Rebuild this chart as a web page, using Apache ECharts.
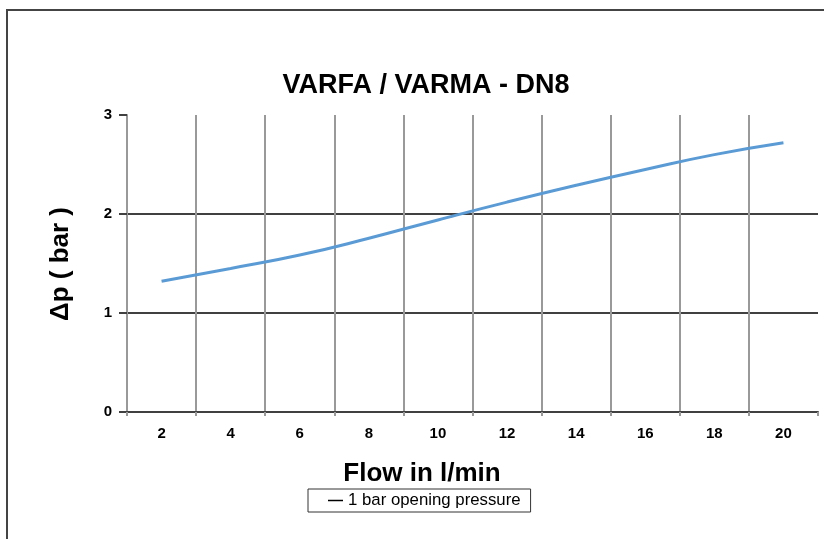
<!DOCTYPE html>
<html>
<head>
<meta charset="utf-8">
<script src="https://cdn.jsdelivr.net/npm/echarts@6/dist/echarts.min.js"></script>
<style>
html,body{margin:0;padding:0;background:#fff;}
#main{width:824px;height:539px;}
</style>
</head>
<body>
<div id="main"></div>
<script>
// flow (l/min) categories and pressure drop
var flowCats = ['2','4','6','8','10','12','14','16','18','20'];
var dpValues = [1.32, 1.45, 1.585, 1.755, 1.94, 2.12, 2.29, 2.45, 2.60, 2.72];
var yTicks = [0, 1, 2, 3];
var seriesName = '1 bar opening pressure';

var fnt = '"Liberation Sans", Arial, sans-serif';
var myChart = echarts.init(document.getElementById('main'));

var option = {
    animation: false,
    title: {
        text: 'VARFA / VARMA - DN8',
        left: 421,
        top: 67,
        textAlign: 'center',
        textStyle: {fontFamily: fnt, fontSize: 27, fontWeight: 'bold', color: '#000'}
    },
    grid: {left: 127, right: 6, top: 115, bottom: 127},
    legend: {
        left: 308,
        top: 489,
        borderColor: '#333',
        borderWidth: 1,
        borderRadius: 0,
        padding: [3, 10, 3, 20],
        icon: 'rect',
        itemWidth: 15,
        itemHeight: 1.5,
        textStyle: {fontFamily: fnt, fontSize: 16.8, color: '#000', lineHeight: 17},
        data: [{name: seriesName, itemStyle: {color: '#000'}}]
    },
    xAxis: {
        type: 'category',
        data: flowCats,
        boundaryGap: true,
        axisLine: {lineStyle: {color: '#404040', width: 2}},
        axisTick: {show: true, length: 4, lineStyle: {color: '#999', width: 2}},
        axisLabel: {fontFamily: fnt, fontSize: 15, fontWeight: 'bold', color: '#000', margin: 14},
        splitLine: {show: true, showMaxLine: false, lineStyle: {color: '#999', width: 2}}
    },
    yAxis: {
        type: 'value',
        min: yTicks[0],
        max: yTicks[yTicks.length - 1],
        interval: 1,
        axisLine: {show: true, lineStyle: {color: '#999', width: 2}},
        axisTick: {show: true, length: 8, lineStyle: {color: '#404040', width: 2}},
        axisLabel: {fontFamily: fnt, fontSize: 15, fontWeight: 'bold', color: '#000', margin: 15, padding: [3, 0, 0, 0]},
        splitLine: {show: true, showMinLine: false, showMaxLine: false, lineStyle: {color: '#404040', width: 2}}
    },
    graphic: [
        {
            type: 'rect', z: -10,
            shape: {x: 7, y: 10, width: 900, height: 700},
            style: {fill: 'none', stroke: '#444', lineWidth: 2}
        },
        {
            type: 'text', x: 422, y: 474,
            style: {text: 'Flow in l/min', fontFamily: fnt, fontSize: 26, fontWeight: 'bold', fill: '#000', textAlign: 'center', textVerticalAlign: 'middle'}
        },
        {
            type: 'text', x: 61, y: 264, rotation: Math.PI / 2,
            style: {text: 'Δp ( bar )', fontFamily: fnt, fontSize: 26, fontWeight: 'bold', fill: '#000', textAlign: 'center', textVerticalAlign: 'middle'}
        }
    ],
    series: [{
        name: seriesName,
        type: 'line',
        data: dpValues,
        smooth: true,
        symbol: 'none',
        lineStyle: {color: '#5b9bd5', width: 3}
    }]
};
myChart.setOption(option);
</script>
</body>
</html>
